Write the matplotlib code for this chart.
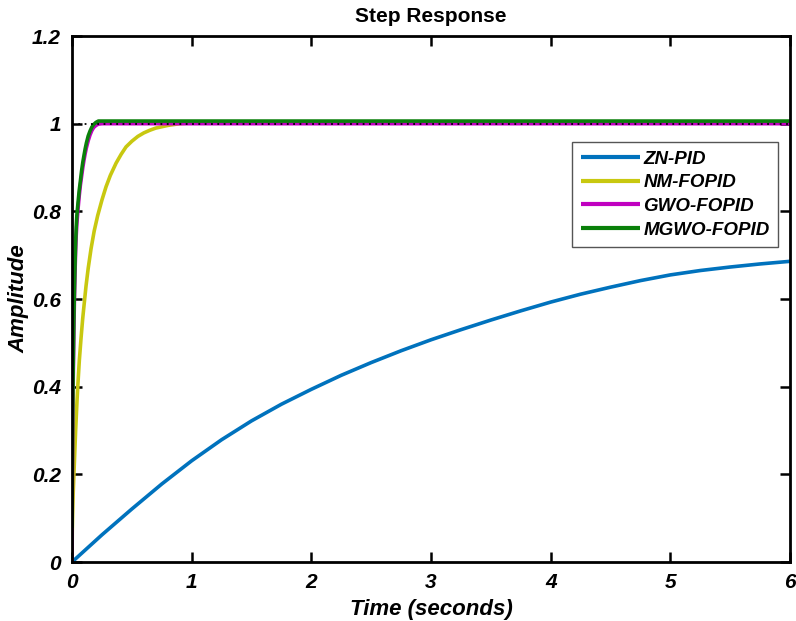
import matplotlib
matplotlib.use("Agg")
import matplotlib.pyplot as plt

# ZN-PID
zn_t = [0, 0.25, 0.5, 0.75, 1.0, 1.25, 1.5, 1.75, 2.0, 2.25, 2.5, 2.75, 3.0, 3.25, 3.5,
        3.75, 4.0, 4.25, 4.5, 4.75, 5.0, 5.25, 5.5, 5.75, 6.0]
zn_y = [0, 0.062, 0.121, 0.178, 0.231, 0.279, 0.322, 0.36, 0.394, 0.426, 0.455, 0.482,
        0.507, 0.53, 0.552, 0.573, 0.593, 0.611, 0.627, 0.642, 0.655, 0.665, 0.673, 0.68, 0.686]

# NM-FOPID
nm_t = [0, 0.002, 0.005, 0.01, 0.02, 0.03, 0.042, 0.05, 0.061, 0.075, 0.089, 0.10, 0.117,
        0.135, 0.159, 0.185, 0.214, 0.25, 0.284, 0.32, 0.368, 0.41, 0.451, 0.5, 0.55, 0.6,
        0.65, 0.7, 0.75, 0.8, 0.85, 0.9, 0.95, 1.0]
nm_y = [0, 0.07, 0.11, 0.16, 0.23, 0.30, 0.37, 0.41, 0.46, 0.51, 0.555, 0.585, 0.63,
        0.67, 0.715, 0.755, 0.79, 0.826, 0.856, 0.882, 0.91, 0.93, 0.947, 0.96, 0.971, 0.979,
        0.985, 0.99, 0.993, 0.996, 0.998, 1.0, 1.001, 1.002]

# GWO-FOPID
gwo_t = [0, 0.002, 0.005, 0.01, 0.015, 0.02, 0.025, 0.03, 0.035, 0.04, 0.05, 0.06, 0.07,
         0.08, 0.09, 0.10, 0.11, 0.12, 0.135, 0.15, 0.165, 0.18, 0.2, 0.22, 0.25, 6.0]
gwo_y = [0, 0.15, 0.28, 0.42, 0.52, 0.60, 0.66, 0.71, 0.745, 0.77, 0.805, 0.835, 0.86,
         0.88, 0.90, 0.917, 0.932, 0.945, 0.961, 0.974, 0.984, 0.991, 0.996, 0.999, 1.0, 1.0]

# MGWO-FOPID
mgwo_t = [0, 0.002, 0.005, 0.01, 0.015, 0.02, 0.025, 0.03, 0.035, 0.04, 0.05, 0.06, 0.07,
          0.08, 0.09, 0.10, 0.11, 0.12, 0.135, 0.15, 0.165, 0.18, 0.2, 0.22, 0.25, 6.0]
mgwo_y = [0.078, 0.2, 0.32, 0.45, 0.55, 0.62, 0.68, 0.73, 0.765, 0.79, 0.82, 0.848, 0.87,
          0.893, 0.912, 0.928, 0.943, 0.956, 0.972, 0.983, 0.992, 0.998, 1.003, 1.006, 1.006, 1.006]

labels = ["ZN-PID", "NM-FOPID", "GWO-FOPID", "MGWO-FOPID"]
colors = ["#0072BD", "#C8C810", "#C000C0", "#0A800A"]

x_ticks = [0, 1, 2, 3, 4, 5, 6]
y_ticks = [0, 0.2, 0.4, 0.6, 0.8, 1.0, 1.2]
y_ticklabels = ["0", "0.2", "0.4", "0.6", "0.8", "1", "1.2"]

fam = ["Liberation Sans", "DejaVu Sans"]

fig = plt.figure(figsize=(7.96, 6.21), dpi=100)
ax = fig.add_axes([0.0905, 0.095, 0.902, 0.847])

lw = 2.6
for (t, y), lab, c in zip([(zn_t, zn_y), (nm_t, nm_y), (gwo_t, gwo_y), (mgwo_t, mgwo_y)], labels, colors):
    ax.plot(t, y, color=c, lw=lw, label=lab, solid_capstyle="butt", solid_joinstyle="round")

ax.axhline(1.0, color="black", lw=1.3, ls=(0, (1, 2.5)), zorder=5)

ax.set_xlim(0, 6)
ax.set_ylim(0, 1.2)
ax.set_xticks(x_ticks)
ax.set_xticklabels([str(v) for v in x_ticks])
ax.set_yticks(y_ticks)
ax.set_yticklabels(y_ticklabels)
ax.tick_params(direction="in", top=True, right=True, length=7, width=1.8, pad=8)
for lab in ax.get_xticklabels() + ax.get_yticklabels():
    lab.set_family(fam)
    lab.set_fontweight("bold")
    lab.set_fontstyle("italic")
    lab.set_fontsize(15)
for sp in ax.spines.values():
    sp.set_linewidth(2)

ax.set_xlabel("Time (seconds)", family=fam, fontweight="bold", fontstyle="italic", fontsize=16, labelpad=5)
ax.set_ylabel("Amplitude", family=fam, fontweight="bold", fontstyle="italic", fontsize=16, labelpad=2)
ax.set_title("Step Response", family=["Liberation Sans Narrow", "Liberation Sans", "DejaVu Sans"],
             fontweight="bold", fontsize=15, pad=10)

leg = ax.legend(loc="upper right", bbox_to_anchor=(778 / 796, 479 / 621),
                bbox_transform=fig.transFigure, frameon=True, fancybox=False,
                edgecolor="#555555", framealpha=1, borderpad=0.45, borderaxespad=0,
                handlelength=3.15, handletextpad=0.2, labelspacing=0.35,
                prop={"family": fam, "weight": "bold", "style": "italic", "size": 13.5})
leg.get_frame().set_linewidth(1.0)
for h in leg.get_lines():
    h.set_linewidth(3)

fig.savefig("out.png", dpi=100)
